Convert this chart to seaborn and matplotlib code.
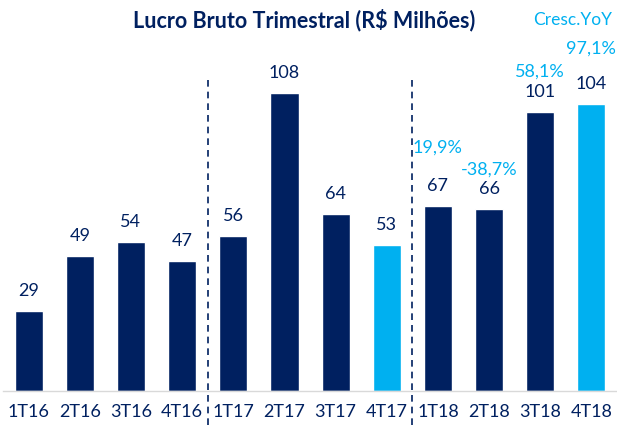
import matplotlib
matplotlib.use("Agg")
import matplotlib.pyplot as plt
import seaborn as sns
import pandas as pd

# data
quarters = ["1T16", "2T16", "3T16", "4T16", "1T17", "2T17", "3T17", "4T17",
            "1T18", "2T18", "3T18", "4T18"]
lucro = [29, 49, 54, 47, 56, 108, 64, 53, 67, 66, 101, 104]
highlight = ["4T17", "4T18"]
yoy_quarters = ["1T18", "2T18", "3T18", "4T18"]
yoy_labels = ["19,9%", "-38,7%", "58,1%", "97,1%"]

# label placement (points above bar top), as in the original slide
yoy_offsets = [42, 28, 29.5, 40]

navy = "#002060"
light = "#00B0F0"

sns.set_theme(style="white")
plt.rcParams['font.family'] = ['Lato', 'DejaVu Sans']

df = pd.DataFrame({"trimestre": quarters, "lucro": lucro})
df["cor"] = ["destaque" if q in highlight else "normal" for q in quarters]

fig = plt.figure(figsize=(6.17, 4.28), dpi=100)
ax = fig.add_axes([0.005, 0.0864, 0.995, 0.9136])

sns.barplot(data=df, x="trimestre", y="lucro", hue="cor",
            palette={"normal": navy, "destaque": light}, saturation=1,
            dodge=False, width=0.55, legend=False, ax=ax)

ax.set_xlim(-0.5, len(quarters) - 0.5)
ax.set_ylim(0, 141.7)
ax.set_yticks([])
ax.set_xlabel("")
ax.set_ylabel("")
for s in ["top", "left", "right"]:
    ax.spines[s].set_visible(False)
ax.spines["bottom"].set_color("#D9D9D9")
ax.spines["bottom"].set_linewidth(1)
ax.tick_params(axis="x", length=0, pad=9, labelsize=13, labelcolor=navy)

# value labels
for i, v in enumerate(lucro):
    ax.annotate(str(v), (i, v), xytext=(0, 14.4), textcoords="offset points",
                ha="center", va="center", fontsize=13, color=navy)

# YoY growth labels
for q, lab, off in zip(yoy_quarters, yoy_labels, yoy_offsets):
    i = quarters.index(q)
    ax.annotate(lab, (i, lucro[i]), xytext=(0, off), textcoords="offset points",
                ha="center", va="center", fontsize=13, color=light)

# year separators
for x in [3.5, 7.5]:
    ax.axvline(x, ymin=-0.087, ymax=0.797, color=navy, lw=1.2,
               ls=(0, (4, 3)), clip_on=False)

fig.text(304 / 617, 1 - 20 / 428, "Lucro Bruto Trimestral (R$ Milhões)",
         ha="center", va="center", fontsize=15.5, fontweight="bold", color=navy)
fig.text(573 / 617, 1 - 20 / 428, "Cresc.YoY", ha="center", va="center",
         fontsize=12.5, color=light)

fig.savefig("out.png", dpi=100)
